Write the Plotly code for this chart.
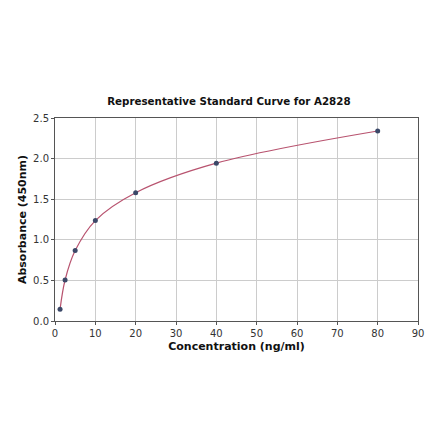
import plotly.graph_objects as go

# standard curve points
conc = [1.25, 2.5, 5, 10, 20, 40, 80]
absorb = [0.144, 0.505, 0.867, 1.237, 1.58, 1.944, 2.34]

x_ticks = [0, 10, 20, 30, 40, 50, 60, 70, 80, 90]
y_ticks = [0.0, 0.5, 1.0, 1.5, 2.0, 2.5]
y_labels = ["0.0", "0.5", "1.0", "1.5", "2.0", "2.5"]

fig = go.Figure()

# fitted curve (smoothed through the points)
fig.add_trace(go.Scatter(
    x=conc, y=absorb, mode="lines",
    line=dict(color="#b8536f", width=1.2, shape="spline", smoothing=1.0),
    hoverinfo="skip", showlegend=False,
))

fig.add_trace(go.Scatter(
    x=conc, y=absorb, mode="markers",
    marker=dict(color="#3b4868", size=5),
    showlegend=False,
))

axis_common = dict(
    showline=True, linecolor="#555555", linewidth=1, mirror=True,
    showgrid=True, gridcolor="#cccccc", gridwidth=1,
    ticks="outside", ticklen=3, tickcolor="#555555",
    tickfont=dict(size=10, color="#333333"),
    zeroline=False,
)

# page body has an 8px margin, so shift the plot up/left to compensate
fig.update_layout(
    width=440, height=441,
    margin=dict(l=47, r=30, t=110, b=128),
    plot_bgcolor="white", paper_bgcolor="white",
    font=dict(family="DejaVu Sans", color="#111111"),
    title=dict(text="<b>Representative Standard Curve for A2828</b>",
               x=0.502, xanchor="center", y=0.788, yanchor="middle",
               font=dict(size=10.3)),
    xaxis=dict(axis_common, range=[0, 90], tickvals=x_ticks,
               title=dict(text="<b>Concentration (ng/ml)</b>", font=dict(size=11), standoff=4)),
    yaxis=dict(axis_common, range=[0, 2.5], tickvals=y_ticks, ticktext=y_labels,
               title=dict(text="<b>Absorbance (450nm)</b>", font=dict(size=11), standoff=4)),
)

fig.write_html("out.html")
